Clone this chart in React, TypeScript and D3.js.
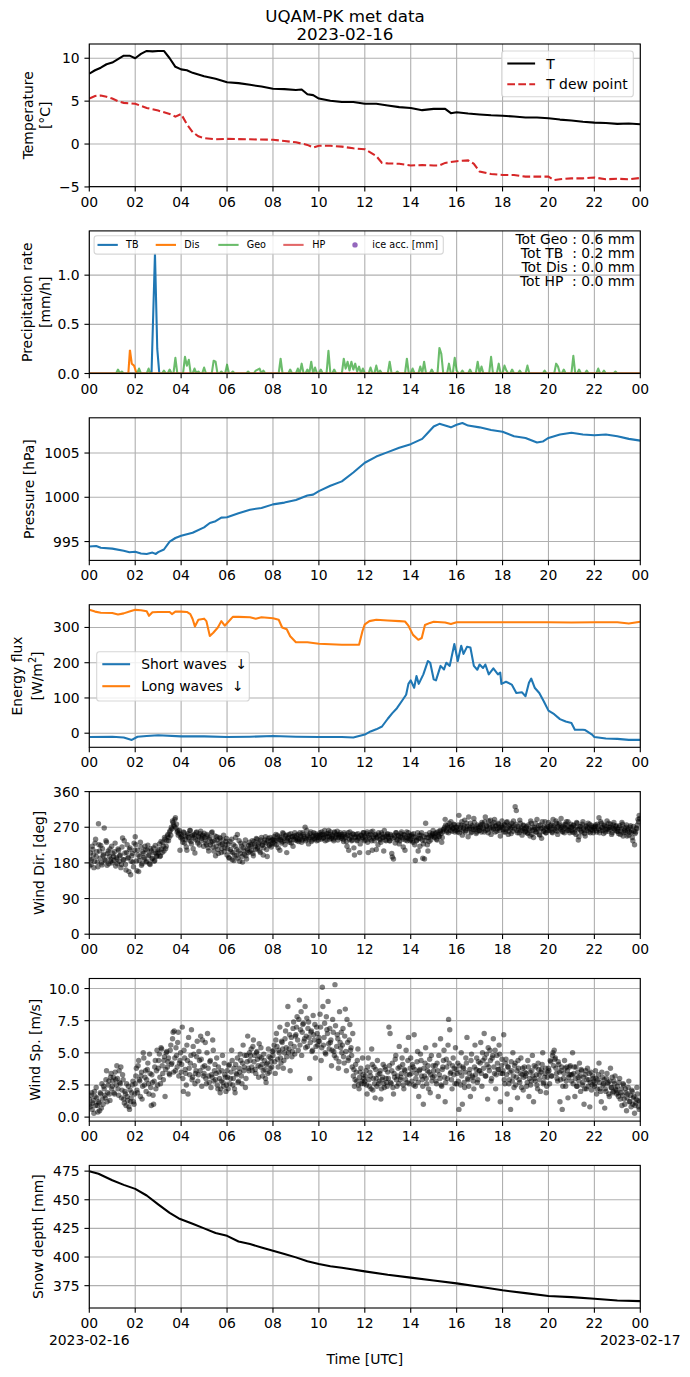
import React from "react";
import * as d3 from "d3";

// ---------------- DATA ----------------
const xTicks = [0, 2, 4, 6, 8, 10, 12, 14, 16, 18, 20, 22, 24];
const xTickLabels = ["00", "02", "04", "06", "08", "10", "12", "14", "16", "18", "20", "22", "00"];

const tempHours = [0,0.25,0.5,0.75,1,1.25,1.5,1.75,2,2.25,2.5,2.75,3,3.25,3.5,3.75,4,4.25,4.5,5,5.5,6,6.5,7,7.5,8,8.5,9,9.25,9.5,9.75,10,10.5,11,11.5,12,12.5,13,13.5,14,14.5,15,15.5,15.75,16,16.5,17,17.5,18,18.5,19,19.5,20,20.5,21,21.5,22,22.5,23,23.5,24];
const tempValues = [8.2,8.6,8.9,9.3,9.5,9.9,10.3,10.3,10.0,10.5,10.85,10.8,10.85,10.85,10.0,9.0,8.7,8.6,8.3,7.9,7.6,7.2,7.1,6.9,6.7,6.45,6.4,6.3,6.35,5.8,5.7,5.3,5.05,4.9,4.9,4.7,4.7,4.5,4.3,4.2,3.95,4.1,4.1,3.6,3.7,3.55,3.45,3.35,3.3,3.2,3.1,3.1,3.0,2.85,2.75,2.6,2.5,2.45,2.35,2.4,2.3];

const dewHours = [0,0.25,0.5,0.75,1,1.25,1.5,2,2.5,3,3.5,3.75,4,4.25,4.5,4.75,5,5.5,6,7,8,8.5,9,9.5,9.75,10,10.5,11,11.5,12,12.5,12.75,13,13.5,14,14.5,15,15.25,15.5,16,16.5,16.75,17,17.5,18,18.5,19,19.5,20,20.25,20.5,21,21.5,22,22.5,23,23.5,24];
const dewValues = [5.3,5.6,5.65,5.5,5.3,5.0,4.8,4.7,4.2,3.9,3.5,3.2,3.5,2.3,1.4,0.9,0.7,0.55,0.6,0.55,0.5,0.35,0.2,-0.1,-0.4,-0.2,-0.2,-0.3,-0.5,-0.6,-1.4,-2.2,-2.25,-2.3,-2.5,-2.45,-2.5,-2.5,-2.2,-2.0,-1.9,-2.3,-3.2,-3.5,-3.6,-3.6,-3.8,-3.8,-3.8,-4.2,-4.1,-4.0,-4.0,-3.9,-4.1,-4.05,-4.1,-3.95];

// precipitation (mm/h)
const tbHours = [0, 2.71, 2.86, 2.96, 3.05, 24];
const tbRates = [0, 0, 1.22, 0.25, 0, 0];
const disHours = [0, 1.7, 1.77, 1.85, 1.95, 2.06, 24];
const disRates = [0, 0, 0.24, 0.1, 0.08, 0, 0];
const hpHours = [0, 24];
const hpRates = [0, 0];
// Geonor rate every 5 minutes (one row per hour)
const geoRates5min = [
  0,0,0,0,0,0,0,0,0,0,0,0,
  0,0,0,0.04,0,0.02,0,0,0,0,0,0,
  0,0,0.05,0,0,0,0,0.05,0,0,0,0,
  0,0,0,0.03,0,0,0.04,0,0,0.16,0,0,
  0,0,0.17,0.08,0.14,0,0,0.05,0,0.02,0,0,
  0.06,0,0,0,0,0.13,0.12,0,0,0.02,0,0,
  0.09,0,0,0.02,0,0,0,0,0,0,0,0.02,
  0,0,0,0.03,0.04,0.05,0,0.03,0,0,0,0,
  0,0,0,0,0.15,0,0,0,0,0.04,0,0,
  0,0.05,0,0.1,0,0,0.04,0,0.12,0,0.06,0,
  0,0.04,0,0,0,0.23,0,0,0.04,0,0,0,
  0,0.15,0.05,0.12,0.03,0.12,0.04,0.1,0.02,0.07,0,0.05,
  0,0,0,0.06,0,0,0.08,0,0.03,0,0,0,
  0,0.12,0,0,0,0.02,0,0,0,0,0.15,0,
  0,0.05,0,0,0,0.07,0,0.12,0,0,0,0.04,
  0,0,0,0.26,0.2,0,0,0,0.1,0,0,0.16,
  0.03,0,0,0.03,0,0,0,0.04,0,0,0,0.12,
  0,0.07,0,0,0,0,0.17,0,0,0,0.1,0,
  0,0.08,0.03,0,0,0.04,0,0,0,0.03,0,0,
  0,0.08,0,0,0,0,0,0,0,0,0.03,0,
  0,0,0,0,0.1,0.07,0,0,0.04,0,0,0,
  0,0.18,0,0,0.04,0,0,0,0.03,0,0,0,
  0,0,0.05,0,0,0.03,0,0,0,0,0,0.02,
  0,0,0,0,0,0,0,0,0,0,0,0,
  0,
];
const precipTotals = ["Tot Geo : 0.6 mm", "Tot TB  : 0.2 mm", "Tot Dis : 0.0 mm", "Tot HP  : 0.0 mm"];

const presHours = [0,0.3,0.5,1,1.5,1.75,2,2.25,2.5,2.75,2.9,3,3.25,3.5,3.75,4,4.5,5,5.25,5.5,5.75,6,6.5,7,7.5,8,8.5,9,9.5,9.75,10,10.5,11,11.5,12,12.5,13,13.5,14,14.5,14.75,15,15.25,15.5,15.75,16,16.25,16.5,17,17.5,18,18.5,19,19.5,19.75,20,20.5,21,21.5,22,22.5,23,23.5,24];
const presValues = [994.45,994.5,994.3,994.2,993.95,993.8,993.85,993.65,993.6,993.75,993.6,993.8,994.1,995.0,995.4,995.65,996.0,996.6,997.1,997.3,997.7,997.75,998.2,998.6,998.8,999.2,999.4,999.7,1000.2,1000.3,1000.7,1001.3,1001.8,1002.8,1003.9,1004.6,1005.1,1005.6,1006.0,1006.6,1007.3,1008.0,1008.3,1008.1,1007.9,1008.2,1008.4,1008.1,1007.9,1007.6,1007.4,1006.9,1006.7,1006.2,1006.3,1006.7,1007.1,1007.3,1007.1,1007.0,1007.1,1006.9,1006.6,1006.4];

const lwHours = [0,0.25,0.5,1,1.25,1.5,1.75,2,2.25,2.5,2.6,2.75,3,3.5,3.6,3.75,4,4.25,4.4,4.5,4.6,4.75,5,5.1,5.25,5.4,5.6,5.75,5.9,6,6.25,6.5,7,7.25,7.5,8,8.25,8.4,8.6,8.75,9,9.5,10,11,11.75,11.9,12,12.2,12.5,13,13.5,13.75,13.9,14.1,14.33,14.48,14.62,14.84,15,15.5,15.75,16,17,18,19,20,21,22,23,23.5,24];
const lwValues = [350,345,342,341,337,340,345,350,349,346,333,343,344,344,338,345,345,344,338,324,303,322,325,318,276,285,300,318,305,312,330,330,329,325,329,326,322,300,295,275,258,258,254,251,251,290,309,318,322,320,318,317,305,279,265,270,307,313,316,314,310,315,315,315,315,315,314,315,315,311,316];
const swHours = [0,1,1.5,1.85,2.1,2.5,3,4,5,6,7,8,9,10,11,11.5,12,12.25,12.5,12.75,13,13.2,13.4,13.6,13.8,13.9,14,14.15,14.25,14.35,14.55,14.75,14.85,15,15.1,15.3,15.45,15.55,15.7,15.9,16.05,16.2,16.3,16.45,16.6,16.75,16.9,17,17.15,17.25,17.4,17.6,17.8,17.9,17.95,18.15,18.4,18.6,18.85,19,19.15,19.25,19.4,19.6,19.8,20,20.25,20.5,20.75,21,21.15,21.5,21.6,21.9,22,22.5,23,23.5,24];
const swValues = [-11,-10,-12,-19,-10,-8,-6,-9,-9,-11,-10,-8,-10,-11,-11,-12,-4,5,11,19,41,57,71,90,109,140,150,129,162,140,167,205,200,153,150,191,181,200,191,253,205,248,225,245,243,191,180,195,185,195,167,184,167,172,140,146,138,114,116,105,143,155,129,114,90,64,54,40,33,29,10,10,9,-4,-11,-15,-16,-19,-19];

// wind, first sample set: every 3 minutes starting at 00:00 (20 per hour)
const windDir = [
  172,205,188,214,168,230,196,182,279,210,224,175,198,268,186,232,204,178,215,190,
  180,196,208,172,190,215,184,200,176,243,188,205,162,226,194,214,150,198,182,230,
  246,185,212,158,196,220,178,204,190,214,184,225,200,176,210,192,218,186,205,198,
  205,228,198,215,232,210,240,222,248,236,258,250,266,282,272,294,278,262,255,212,
  252,240,258,230,246,212,254,238,262,228,250,244,205,256,236,248,225,260,242,250,
  255,238,226,248,210,244,232,258,220,236,198,246,214,230,242,206,228,250,218,234,
  200,228,192,214,240,206,186,222,198,252,210,184,230,196,218,202,238,190,212,224,
  208,222,236,198,228,214,240,220,232,206,244,226,218,238,230,196,242,224,236,228,
  232,246,238,226,250,240,212,244,234,254,236,248,206,242,252,238,230,246,240,256,
  244,236,252,240,248,232,256,246,270,240,250,228,244,258,238,248,242,254,236,250,
  248,256,240,252,244,262,250,238,254,246,258,242,250,236,256,248,260,244,252,246,
  252,240,256,246,234,250,212,258,244,238,252,200,246,236,254,242,228,250,244,256,
  248,238,258,206,244,252,236,260,242,250,214,246,256,240,232,252,244,262,238,248,
  254,242,236,248,195,190,244,256,238,250,228,246,258,240,252,212,244,236,256,248,
  240,252,232,246,186,236,256,242,222,250,238,228,190,280,244,210,234,250,246,254,
  250,244,256,238,252,246,260,232,258,266,290,262,274,256,270,284,260,268,276,262,
  270,258,300,264,276,250,268,288,262,272,246,266,280,258,270,292,264,254,276,268,
  262,276,282,270,258,296,274,264,286,268,252,278,266,290,272,260,280,268,248,274,
  270,258,276,264,284,252,272,266,280,260,274,322,312,256,268,288,262,250,276,266,
  260,272,254,266,248,280,262,244,270,258,290,264,252,276,242,268,260,284,256,272,
  282,266,274,258,290,270,262,280,252,276,268,292,260,272,256,278,266,284,262,270,
  270,258,276,264,252,280,238,266,272,256,284,262,248,274,268,258,278,264,270,256,
  266,276,258,272,294,262,280,268,254,274,264,286,260,270,278,252,268,282,262,274,
  266,254,274,260,282,248,268,258,276,262,250,270,256,244,272,226,258,266,290,300,
];
// second sample set: every 3 minutes starting at 00:01:30
const windDir2 = [
  190,176,222,200,184,240,208,170,226,192,180,216,202,188,236,174,210,196,184,222,
  204,186,230,194,178,212,198,168,220,188,236,176,206,192,158,218,184,204,170,212,
  226,160,200,186,232,174,208,194,222,182,212,198,178,216,190,206,184,224,196,210,
  214,196,234,206,222,244,216,236,252,244,262,270,286,276,290,268,258,250,262,244,
  246,232,256,240,220,250,244,262,234,248,216,252,240,258,230,246,254,236,248,222,
  244,230,252,218,240,226,256,234,210,248,222,238,204,244,226,216,238,208,226,242,
  216,194,234,208,188,226,200,244,214,192,236,204,222,182,210,228,198,216,206,232,
  226,212,204,234,222,242,216,228,210,238,224,200,232,246,214,236,226,244,220,238,
  240,228,252,236,218,246,238,230,256,242,226,250,236,244,232,254,246,222,248,238,
  250,240,234,256,244,238,252,242,236,262,248,240,254,234,246,256,240,250,244,238,
  244,252,258,242,250,236,254,246,262,240,252,246,240,258,244,252,238,250,256,242,
  246,234,252,244,222,256,240,248,236,254,218,244,252,238,246,206,250,240,256,236,
  244,254,232,250,240,258,212,246,236,252,244,226,250,238,256,244,210,248,236,252,
  246,236,252,204,242,250,230,256,240,248,236,254,244,220,250,238,258,242,248,236,
  248,236,254,226,244,238,210,250,242,256,192,246,236,252,226,244,256,238,250,262,
  246,254,240,258,248,262,254,244,264,270,276,258,268,280,262,272,266,278,258,270,
  264,276,256,270,284,262,274,258,280,266,296,270,256,274,264,282,268,258,272,262,
  270,258,278,266,284,262,272,256,276,288,264,270,282,258,274,266,278,262,270,286,
  264,276,258,282,268,260,276,254,270,286,266,278,262,272,256,280,268,262,274,258,
  268,256,276,262,286,252,270,264,280,258,268,274,250,266,284,260,272,256,268,262,
  270,262,278,256,274,266,286,260,272,280,264,270,258,276,268,284,262,272,256,278,
  262,274,256,270,282,264,246,272,260,278,266,254,272,262,280,268,256,274,262,270,
  272,262,278,266,256,284,270,262,276,258,272,266,280,264,270,256,276,266,272,260,
  260,270,252,266,278,256,262,270,248,266,258,274,262,236,260,254,268,276,284,292,
];
const windSpeed = [
  1.4,0.8,1.9,1.1,0.3,1.6,2.3,0.9,1.2,0.5,1.8,2.6,1.0,2.2,1.5,3.6,1.9,2.8,1.3,3.4,
  2.4,3.1,1.8,2.9,4.0,2.2,3.6,2.6,1.5,3.3,1.4,2.0,0.9,1.6,2.4,0.6,1.2,1.9,2.8,1.0,
  2.6,3.8,1.9,4.4,2.8,3.2,1.4,5.0,2.5,3.6,2.9,4.2,1.8,3.4,0.9,2.7,1.0,3.9,2.2,5.2,
  3.8,4.9,2.6,5.3,3.4,4.4,1.6,5.0,3.9,4.6,3.3,5.6,4.2,6.6,6.7,3.6,4.8,5.8,3.2,4.4,
  3.5,7.0,2.0,4.6,3.4,5.6,1.8,3.8,4.2,6.8,3.1,4.9,2.6,3.6,5.9,3.3,4.4,6.3,2.4,3.9,
  3.4,5.8,2.6,6.5,3.2,4.3,2.3,3.1,5.2,3.6,2.9,4.6,2.2,3.5,1.9,2.8,4.8,2.4,3.3,2.0,
  3.6,2.2,4.1,3.0,5.2,2.5,3.8,1.9,3.4,4.6,2.8,3.5,4.4,2.6,5.6,3.9,2.3,4.8,6.3,3.6,
  4.4,5.3,3.6,6.0,4.8,3.4,5.1,4.0,5.7,3.9,4.6,3.2,4.9,3.7,2.7,4.2,5.3,3.5,4.6,3.9,
  4.8,5.6,3.4,6.5,4.5,5.2,7.0,4.2,5.8,3.8,5.0,6.7,4.7,8.6,5.3,3.6,6.2,5.1,7.4,4.9,
  6.4,7.8,5.2,9.1,6.8,4.8,7.2,5.9,8.6,6.3,5.5,7.4,3.0,6.6,5.1,7.9,6.0,4.6,7.0,5.6,
  6.2,8.0,4.4,10.1,5.6,7.3,4.9,6.8,9.0,5.3,5.8,4.0,7.6,5.1,10.3,4.6,6.4,3.8,8.2,5.4,
  5.0,6.9,4.2,8.4,3.6,5.8,4.6,7.2,5.4,3.9,3.2,2.4,4.1,2.8,5.3,2.2,3.5,2.6,4.6,3.0,
  2.8,3.6,1.8,4.6,2.4,3.2,5.3,2.1,3.9,1.5,3.0,4.4,2.6,3.4,1.4,2.9,4.1,2.3,3.7,2.7,
  3.5,7.0,6.5,2.6,4.2,1.8,3.1,4.8,2.4,3.8,5.5,2.9,3.4,4.1,2.2,3.6,5.2,2.7,6.2,3.3,
  4.6,2.8,3.9,6.4,2.4,3.4,5.1,1.6,3.7,4.4,2.9,1.0,3.2,5.4,2.6,4.0,3.5,1.9,4.8,3.1,
  3.6,5.6,2.8,4.2,1.6,3.3,6.1,2.4,3.9,5.2,1.2,4.5,3.0,7.6,6.8,3.5,2.2,4.6,3.8,5.4,
  2.6,4.2,0.6,3.5,5.0,1.0,3.8,2.3,4.6,6.2,2.9,3.4,1.6,4.9,3.1,2.2,5.6,3.7,2.7,4.3,
  3.6,5.8,2.4,4.4,6.5,3.2,4.9,1.4,3.9,5.2,2.8,4.6,6.1,3.4,2.2,4.8,3.7,5.6,1.2,4.0,
  3.4,6.4,2.6,4.5,1.8,3.9,2.9,0.6,3.6,5.0,2.3,4.2,3.1,1.5,3.8,2.7,4.6,3.3,2.1,3.9,
  3.2,2.4,4.4,1.6,3.5,2.8,4.8,1.2,3.0,3.9,2.5,4.2,3.3,2.0,3.7,5.0,2.7,3.4,1.9,3.1,
  3.8,2.6,4.3,3.2,5.0,5.2,4.6,3.4,2.8,4.1,1.2,3.6,0.6,3.0,4.4,2.4,3.9,1.5,3.3,4.0,
  2.8,5.0,3.4,1.6,3.9,2.4,3.1,4.2,2.0,3.6,2.7,1.0,3.3,2.2,3.8,2.9,0.8,3.5,2.5,3.0,
  2.4,3.6,1.8,2.9,4.2,2.2,1.2,3.1,2.6,0.7,2.0,3.4,2.7,1.6,3.8,2.3,1.9,2.8,3.2,2.1,
  2.4,1.6,3.0,1.9,0.9,2.6,1.4,2.2,0.5,1.8,2.8,1.2,0.8,2.0,1.5,0.3,1.1,2.3,1.3,0.6,
];
const windSpeed2 = [
  1.0,1.7,0.6,1.3,2.0,0.9,1.5,0.4,1.1,1.9,0.7,1.4,2.4,1.7,2.9,1.2,2.5,1.8,3.1,2.2,
  2.8,1.9,3.5,2.5,3.0,1.7,2.7,3.9,2.1,2.9,1.1,1.8,2.6,1.3,0.8,2.1,1.5,2.5,1.2,1.8,
  3.2,2.1,4.0,2.9,1.6,3.5,2.4,4.6,3.1,2.0,3.7,2.6,4.9,2.3,3.3,1.7,2.8,4.4,3.6,2.5,
  4.4,3.1,5.4,4.0,2.9,4.7,3.7,5.1,4.3,3.4,5.2,4.1,6.1,3.5,4.6,5.4,3.9,6.6,4.2,5.0,
  4.1,3.0,5.2,3.7,2.5,4.4,6.2,3.3,4.8,2.9,5.5,4.0,3.4,4.7,2.8,5.1,3.6,4.5,6.0,3.2,
  4.0,3.0,5.0,3.8,2.7,4.4,3.3,6.0,2.8,4.1,3.4,2.5,3.9,3.0,2.2,3.6,2.7,4.2,3.1,2.5,
  3.1,4.0,2.6,3.5,4.4,3.0,2.2,4.1,3.3,2.7,3.8,4.9,3.2,4.2,3.6,4.8,3.0,4.3,3.8,5.0,
  4.8,3.9,5.5,4.3,3.7,5.0,4.5,3.1,4.7,5.4,4.1,3.6,4.4,3.0,4.1,3.4,4.7,3.8,4.3,5.1,
  5.2,4.3,6.0,5.5,3.9,5.0,4.6,5.9,5.3,4.4,6.1,5.4,7.2,5.0,6.4,5.7,4.7,6.9,5.5,6.3,
  7.0,6.0,7.6,5.6,8.2,6.6,7.3,6.1,5.4,7.7,6.9,6.2,5.8,6.7,5.2,6.4,7.2,5.5,6.5,5.9,
  5.9,7.0,5.4,8.6,6.2,5.0,7.8,6.5,5.7,6.9,6.0,5.2,6.6,4.8,7.1,5.5,6.1,4.3,5.8,6.6,
  5.6,4.7,6.3,5.1,7.6,4.4,6.0,5.2,4.8,6.5,3.7,2.9,3.5,4.4,2.5,3.1,3.8,2.8,3.3,2.6,
  3.2,2.5,3.9,2.9,3.5,2.2,4.1,3.0,2.6,3.7,2.4,3.3,2.8,3.6,2.2,3.1,2.6,3.9,3.0,2.4,
  3.0,4.0,2.7,3.6,2.3,3.4,4.5,2.9,3.2,2.6,3.9,3.1,4.6,2.5,3.7,2.9,3.3,4.4,2.6,3.8,
  3.4,4.1,2.5,3.7,3.0,4.3,2.7,3.6,4.9,3.2,2.4,3.8,4.2,3.0,3.6,2.2,4.5,3.3,2.8,4.0,
  3.2,4.0,2.6,3.6,4.8,3.0,2.5,3.7,4.4,3.1,2.7,3.9,5.6,4.2,3.4,2.9,4.0,3.3,2.6,3.7,
  3.4,2.8,4.0,2.5,3.2,3.9,2.7,3.5,4.2,3.0,2.4,3.7,4.4,3.2,2.8,3.9,3.3,4.6,2.9,3.6,
  4.2,3.4,5.0,3.8,4.6,3.2,4.1,5.4,3.6,4.4,3.0,4.8,3.9,5.2,3.3,4.2,3.7,4.9,3.4,4.5,
  3.6,2.9,4.2,3.3,3.9,2.6,3.5,4.3,2.8,3.2,4.0,2.5,3.6,4.4,2.9,3.4,2.3,3.8,3.1,3.5,
  3.4,2.7,3.9,3.0,2.5,3.6,3.2,4.0,2.8,3.3,2.2,3.7,2.9,3.5,4.1,2.6,3.1,3.8,2.4,3.5,
  3.6,4.4,3.2,4.8,4.0,4.5,3.8,3.0,4.3,3.5,2.9,3.9,2.4,3.4,3.8,2.8,3.6,3.1,3.9,3.3,
  3.3,2.6,3.9,3.0,2.4,3.5,2.8,3.2,3.7,2.5,3.1,2.2,3.6,2.9,2.4,3.4,2.7,2.1,3.2,2.8,
  2.6,3.0,2.2,3.3,2.7,2.0,3.5,2.5,2.9,2.2,3.0,2.6,1.8,2.8,2.3,3.1,2.0,2.6,2.2,1.8,
  1.9,2.7,1.4,2.2,1.7,2.5,1.0,1.9,1.5,2.3,1.2,1.7,2.1,1.0,1.6,0.9,1.4,1.8,0.8,1.2,
];

const snowHours = [0,0.4,1,1.5,2,2.5,3,3.5,3.9,4.5,5,5.5,6,6.5,7,7.5,8,8.5,9,9.5,10,10.5,11,12,13,14,15,16,17,18,19,20,21,22,23,24];
const snowValues = [475,472.7,467,463,459.5,453.7,446,438.5,433.7,429,425,421,418.5,413.6,411.3,408.4,405.5,402.6,399.7,396.3,394,392,390.6,387.5,384.5,382,379.5,377,374,371,368.5,366,365,363.5,362,361.5];

// ---------------- LAYOUT ----------------
const W = 690;
const H = 1377;
const LEFT = 89.3;
const RIGHT = 640.3;
const TOP0 = 44;
const STEP = 186.9;
const PH = 142.6;
const FS = 13.9;
const FONT = "'DejaVu Sans', Verdana, sans-serif";
const GRID = "#b0b0b0";
const LW = 2.08;
const SPINE = 1.11;

const x = d3.scaleLinear().domain([0, 24]).range([LEFT, RIGHT]);
const zip = (a: number[], b: number[]) => a.map((v, i) => [v, b[i]] as [number, number]);

type PanelCfg = {
  domain: [number, number];
  ticks: number[];
  fmt: (v: number) => string;
  labels: { text: React.ReactNode; x: number }[];
};

function Frame({ i, cfg, children }: { i: number; cfg: PanelCfg; children: (y: d3.ScaleLinear<number, number>) => React.ReactNode }) {
  const top = TOP0 + i * STEP;
  const bottom = top + PH;
  const y = d3.scaleLinear().domain(cfg.domain).range([bottom, top]);
  const cy = (top + bottom) / 2;
  return (
    <g>
      <defs>
        <clipPath id={`clip${i}`}>
          <rect x={LEFT} y={top} width={RIGHT - LEFT} height={PH} />
        </clipPath>
      </defs>
      {xTicks.map((t) => (
        <line key={`gx${t}`} x1={x(t)} x2={x(t)} y1={top} y2={bottom} stroke={GRID} strokeWidth={SPINE} />
      ))}
      {cfg.ticks.map((t) => (
        <line key={`gy${t}`} x1={LEFT} x2={RIGHT} y1={y(t)} y2={y(t)} stroke={GRID} strokeWidth={SPINE} />
      ))}
      <g clipPath={`url(#clip${i})`}>{children(y)}</g>
      <rect x={LEFT} y={top} width={RIGHT - LEFT} height={PH} fill="none" stroke="black" strokeWidth={SPINE} />
      {xTicks.map((t, k) => (
        <g key={`tx${t}`}>
          <line x1={x(t)} x2={x(t)} y1={bottom} y2={bottom + 4.86} stroke="black" strokeWidth={SPINE} />
          <text x={x(t)} y={bottom + 20} textAnchor="middle" fontSize={FS}>
            {xTickLabels[k]}
          </text>
        </g>
      ))}
      {cfg.ticks.map((t) => (
        <g key={`ty${t}`}>
          <line x1={LEFT - 4.86} x2={LEFT} y1={y(t)} y2={y(t)} stroke="black" strokeWidth={SPINE} />
          <text x={LEFT - 9.7} y={y(t) + 5} textAnchor="end" fontSize={FS}>
            {cfg.fmt(t)}
          </text>
        </g>
      ))}
      {cfg.labels.map((l, k) => (
        <text key={`yl${k}`} x={l.x} y={cy} transform={`rotate(-90 ${l.x} ${cy})`} textAnchor="middle" dominantBaseline="central" fontSize={FS}>
          {l.text}
        </text>
      ))}
    </g>
  );
}

const minus = (v: number) => (v < 0 ? "\u2212" + Math.abs(v) : String(v));

export default function App() {
  const tempCfg: PanelCfg = { domain: [-4.96, 11.66], ticks: [-5, 0, 5, 10], fmt: minus, labels: [{ text: "Temperature", x: 28.5 }, { text: "[°C]", x: 45.5 }] };
  const precCfg: PanelCfg = { domain: [0, 1.45], ticks: [0, 0.5, 1.0], fmt: (v) => v.toFixed(1), labels: [{ text: "Precipitation rate", x: 27.5 }, { text: "[mm/h]", x: 45.5 }] };
  const presCfg: PanelCfg = { domain: [992.87, 1008.98], ticks: [995, 1000, 1005], fmt: (v) => String(v), labels: [{ text: "Pressure [hPa]", x: 29.5 }] };
  const enCfg: PanelCfg = {
    domain: [-40, 364.6],
    ticks: [0, 100, 200, 300],
    fmt: (v) => String(v),
    labels: [
      { text: "Energy flux", x: 16.7 },
      { text: (<>[W/m<tspan dy={-5} fontSize={9.7}>2</tspan><tspan dy={5}>]</tspan></>), x: 36.7 },
    ],
  };
  const wdCfg: PanelCfg = { domain: [0, 360], ticks: [0, 90, 180, 270, 360], fmt: (v) => String(v), labels: [{ text: "Wind Dir. [deg]", x: 39 }] };
  const wsCfg: PanelCfg = { domain: [-0.31, 10.78], ticks: [0, 2.5, 5, 7.5, 10], fmt: (v) => v.toFixed(1), labels: [{ text: "Wind Sp. [m/s]", x: 35 }] };
  const snCfg: PanelCfg = { domain: [355.5, 480], ticks: [375, 400, 425, 450, 475], fmt: (v) => String(v), labels: [{ text: "Snow depth [mm]", x: 38.5 }] };

  const mkLine = (y: d3.ScaleLinear<number, number>) =>
    d3.line<[number, number]>().x((d) => x(d[0])).y((d) => y(d[1]));

  const geoPts = geoRates5min.map((v, k) => [k / 12, v] as [number, number]);
  const windHours = windDir.map((_, k) => k * 0.05);
  const windHours2 = windDir2.map((_, k) => k * 0.05 + 0.025);

  const legendFrame = (lx: number, ly: number, w: number, h: number) => (
    <rect x={lx} y={ly} width={w} height={h} rx={2.8} fill="white" fillOpacity={0.8} stroke="#cccccc" strokeOpacity={0.8} strokeWidth={SPINE} />
  );

  const top = (i: number) => TOP0 + i * STEP;

  const dots = (hours: number[], vals: number[], y: d3.ScaleLinear<number, number>, key: string) =>
    vals.map((v, k) => <circle key={key + k} cx={x(hours[k])} cy={y(v)} r={2.7} />);

  return (
    <div style={{ position: "absolute", left: 0, top: 0, width: W, height: H, background: "white" }}>
      <svg width={W} height={H} viewBox={`0 0 ${W} ${H}`} fontFamily={FONT} style={{ display: "block" }}>
        <rect width={W} height={H} fill="white" />
        <text x={345} y={22} textAnchor="middle" fontSize={16.7}>UQAM-PK met data</text>
        <text x={345} y={39.5} textAnchor="middle" fontSize={16.7}>2023-02-16</text>

        {/* Temperature */}
        <Frame i={0} cfg={tempCfg}>
          {(y) => (
            <>
              <path d={mkLine(y)(zip(tempHours, tempValues)) || ""} fill="none" stroke="black" strokeWidth={LW} strokeLinejoin="round" />
              <path d={mkLine(y)(zip(dewHours, dewValues)) || ""} fill="none" stroke="#d62728" strokeWidth={LW} strokeDasharray="7.7,3.3" />
            </>
          )}
        </Frame>
        <g>
          {legendFrame(501.7, 51, 131.6, 45.7)}
          <line x1={507.3} x2={535.1} y1={63.5} y2={63.5} stroke="black" strokeWidth={LW} />
          <text x={546.2} y={63.5 + 5} fontSize={FS}>T</text>
          <line x1={507.3} x2={535.1} y1={84.2} y2={84.2} stroke="#d62728" strokeWidth={LW} strokeDasharray="7.7,3.3" />
          <text x={546.2} y={84.2 + 5} fontSize={FS}>T dew point</text>
        </g>

        {/* Precipitation */}
        <Frame i={1} cfg={precCfg}>
          {(y) => (
            <>
              <path d={mkLine(y)(zip(tbHours, tbRates)) || ""} fill="none" stroke="#1f77b4" strokeWidth={LW} />
              <path d={mkLine(y)(zip(disHours, disRates)) || ""} fill="none" stroke="#ff7f0e" strokeWidth={LW} />
              <path d={mkLine(y)(geoPts) || ""} fill="none" stroke="#2ca02c" strokeOpacity={0.7} strokeWidth={LW} strokeLinejoin="round" />
              <path d={mkLine(y)(zip(hpHours, hpRates)) || ""} fill="none" stroke="#d62728" strokeOpacity={0.7} strokeWidth={LW} />
            </>
          )}
        </Frame>
        <g fontSize={9.65}>
          {legendFrame(94.1, top(1) + 4.8, 349.2, 18.4)}
          {[
            { x1: 97.5, t: 126, label: "TB", c: "#1f77b4", o: 1 },
            { x1: 155.7, t: 184.3, label: "Dis", c: "#ff7f0e", o: 1 },
            { x1: 218.3, t: 246.7, label: "Geo", c: "#2ca02c", o: 0.7 },
            { x1: 283.3, t: 312.3, label: "HP", c: "#d62728", o: 0.7 },
          ].map((e) => (
            <g key={e.label}>
              <line x1={e.x1} x2={e.x1 + 20.3} y1={top(1) + 14} y2={top(1) + 14} stroke={e.c} strokeOpacity={e.o} strokeWidth={LW} />
              <text x={e.t} y={top(1) + 14 + 3.5}>{e.label}</text>
            </g>
          ))}
          <circle cx={355} cy={top(1) + 14} r={2.7} fill="#9467bd" />
          <text x={372.3} y={top(1) + 14 + 3.5}>ice acc. [mm]</text>
        </g>
        <g fontSize={FS} textAnchor="end">
          {precipTotals.map((s, k) => (
            <text key={k} x={634.8} y={244 + k * 14} xmlSpace="preserve" style={{ whiteSpace: "pre" }}>{s}</text>
          ))}
        </g>

        {/* Pressure */}
        <Frame i={2} cfg={presCfg}>
          {(y) => <path d={mkLine(y)(zip(presHours, presValues)) || ""} fill="none" stroke="#1f77b4" strokeWidth={LW} strokeLinejoin="round" />}
        </Frame>

        {/* Energy flux */}
        <Frame i={3} cfg={enCfg}>
          {(y) => (
            <>
              <path d={mkLine(y)(zip(swHours, swValues)) || ""} fill="none" stroke="#1f77b4" strokeWidth={LW} strokeLinejoin="round" />
              <path d={mkLine(y)(zip(lwHours, lwValues)) || ""} fill="none" stroke="#ff7f0e" strokeWidth={LW} strokeLinejoin="round" />
            </>
          )}
        </Frame>
        <g>
          {legendFrame(96.7, 651.7, 152.6, 49.3)}
          <line x1={102.3} x2={130.1} y1={664.2} y2={664.2} stroke="#1f77b4" strokeWidth={LW} />
          <text x={141.2} y={664.2 + 5} fontSize={FS} xmlSpace="preserve" style={{ whiteSpace: "pre" }}>{"Short waves  \u2193"}</text>
          <line x1={102.3} x2={130.1} y1={686.2} y2={686.2} stroke="#ff7f0e" strokeWidth={LW} />
          <text x={141.2} y={686.2 + 5} fontSize={FS} xmlSpace="preserve" style={{ whiteSpace: "pre" }}>{"Long waves  \u2193"}</text>
        </g>

        {/* Wind direction */}
        <Frame i={4} cfg={wdCfg}>
          {(y) => (
            <g fill="black" fillOpacity={0.5}>
              {dots(windHours, windDir, y, "a")}
              {dots(windHours2, windDir2, y, "b")}
            </g>
          )}
        </Frame>

        {/* Wind speed */}
        <Frame i={5} cfg={wsCfg}>
          {(y) => (
            <g fill="black" fillOpacity={0.5}>
              {dots(windHours, windSpeed, y, "a")}
              {dots(windHours2, windSpeed2, y, "b")}
            </g>
          )}
        </Frame>

        {/* Snow depth */}
        <Frame i={6} cfg={snCfg}>
          {(y) => <path d={mkLine(y)(zip(snowHours, snowValues)) || ""} fill="none" stroke="black" strokeWidth={LW} strokeLinejoin="round" />}
        </Frame>
        <text x={x(0)} y={top(6) + PH + 36.7} textAnchor="middle" fontSize={FS}>2023-02-16</text>
        <text x={x(24)} y={top(6) + PH + 36.7} textAnchor="middle" fontSize={FS}>2023-02-17</text>
        <text x={(LEFT + RIGHT) / 2} y={1364} textAnchor="middle" fontSize={FS}>Time [UTC]</text>
      </svg>
    </div>
  );
}
